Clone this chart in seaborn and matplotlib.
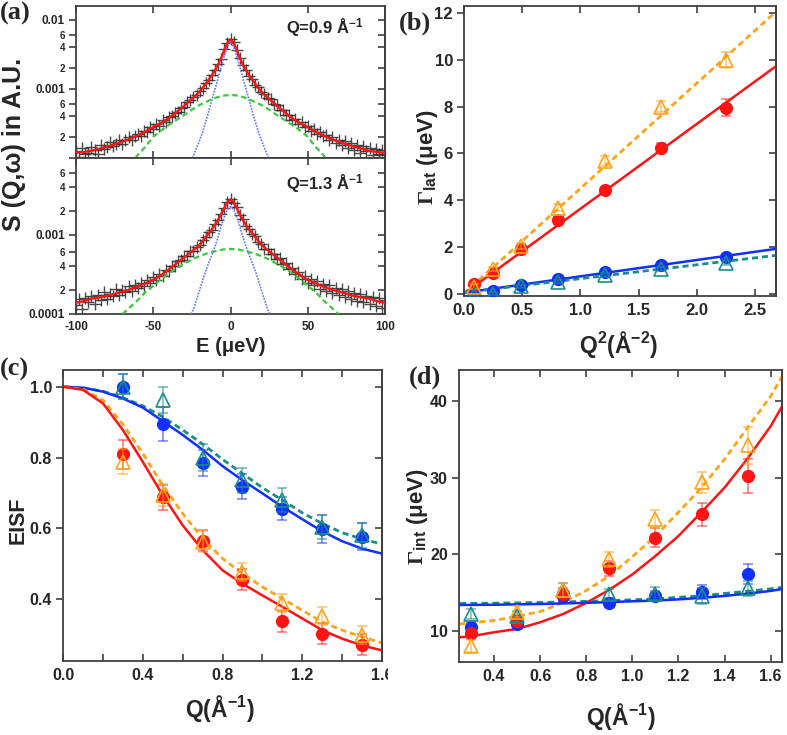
import numpy as np
import matplotlib
matplotlib.use('Agg')
import matplotlib.pyplot as plt
import matplotlib.colors as mcolors
from matplotlib.transforms import Bbox, TransformedBbox
import seaborn as sns

sns.set_style('ticks')
plt.rcParams['font.family'] = ['Liberation Sans', 'DejaVu Sans']
plt.rcParams['font.weight'] = 'bold'
plt.rcParams['axes.labelweight'] = 'bold'
plt.rcParams['axes.unicode_minus'] = False
plt.rcParams['mathtext.fontset'] = 'custom'
plt.rcParams['mathtext.rm'] = 'Liberation Serif'
plt.rcParams['mathtext.bf'] = 'Liberation Sans:bold'
plt.rcParams['mathtext.it'] = 'Liberation Sans:italic:bold'
plt.rcParams['mathtext.default'] = 'bf'

# ---------------- data: panel (a)  (intensities in units of 1e-4) ----------------
UNIT = 1e-4
data_E = list(range(-100, 101, 2))
data_q09 = [1.25, 1.05, 1.4, 1.15, 1.2, 1.45, 1.3, 1.15, 1.55, 1.35,
            1.45, 1.7, 1.5, 1.6, 1.85, 1.6, 1.8, 2.0, 1.85, 2.1,
            2.25, 2.05, 2.5, 2.35, 2.8, 2.65, 3.1, 2.95, 3.5, 3.35,
            3.9, 4.0, 4.45, 4.65, 5.3, 5.55, 6.45, 6.85, 7.7, 8.1,
            9.3, 10.2, 12.0, 13.4, 16.0, 18.6, 22.8, 27.6, 37.5, 46.5,
            53.0,
            47.5, 36.5, 28.4, 22.2, 19.1, 15.5, 13.8, 11.6, 10.5, 8.9,
            8.4, 7.3, 7.1, 6.1, 5.85, 5.0, 4.9, 4.25, 4.2, 3.6,
            3.7, 3.15, 3.3, 2.8, 2.95, 2.5, 2.65, 2.2, 2.35, 2.05,
            2.15, 1.8, 2.0, 1.65, 1.85, 1.55, 1.75, 1.4, 1.65, 1.3,
            1.55, 1.2, 1.5, 1.25, 1.4, 1.1, 1.35, 1.15, 1.3, 1.1]
data_q13 = [1.3, 1.55, 1.15, 1.6, 1.4, 1.7, 1.35, 1.75, 1.5, 1.9,
            1.55, 1.8, 1.7, 2.05, 1.75, 2.0, 1.9, 2.25, 1.95, 2.35,
            2.15, 2.5, 2.25, 2.7, 2.5, 2.9, 2.7, 3.2, 3.0, 3.65,
            3.5, 4.1, 4.0, 4.7, 4.75, 5.4, 5.45, 6.2, 6.3, 7.1,
            7.4, 8.6, 9.4, 10.8, 11.6, 13.7, 15.3, 18.6, 21.8, 26.4,
            28.8,
            25.7, 22.3, 18.0, 15.7, 13.1, 12.0, 10.3, 9.7, 8.2, 7.7,
            6.7, 6.6, 5.8, 5.8, 5.0, 5.05, 4.3, 4.4, 3.7, 3.85,
            3.25, 3.4, 2.8, 3.05, 2.5, 2.8, 2.3, 2.6, 2.1, 2.4,
            1.95, 2.3, 1.85, 2.15, 1.75, 2.05, 1.65, 1.95, 1.55, 1.85,
            1.45, 1.8, 1.4, 1.7, 1.35, 1.65, 1.25, 1.6, 1.2, 1.5]

fit_E = [-100, -95, -90, -85, -80, -75, -70, -65, -60, -55, -50, -45, -40, -35, -30, -25,
         -20, -15, -12, -10, -8, -6, -4, -2, 0, 2, 4, 6, 8, 10, 12, 15, 20, 25, 30, 35,
         40, 45, 50, 55, 60, 65, 70, 75, 80, 85, 90, 95, 100]
total_q09 = [1.19, 1.22, 1.27, 1.36, 1.46, 1.58, 1.72, 1.9, 2.12, 2.42, 2.8, 3.2, 3.76, 4.6,
             5.7, 7.2, 9.1, 12.7, 15.8, 18.8, 22.5, 28, 37, 47, 52.5, 47, 37, 28, 22.5, 18.8,
             15.8, 12.7, 9.1, 7.2, 5.7, 4.6, 3.76, 3.2, 2.8, 2.42, 2.12, 1.9, 1.72, 1.58, 1.46,
             1.36, 1.27, 1.22, 1.19]
total_q13 = [1.39, 1.45, 1.56, 1.62, 1.69, 1.8, 1.92, 2.05, 2.22, 2.45, 2.7, 3.1, 3.65, 4.35,
             5.2, 6.2, 7.5, 10.0, 11.8, 13.4, 15.5, 18.3, 22, 26, 28.3, 26, 22, 18.3, 15.5, 13.4,
             11.8, 10.0, 7.5, 6.2, 5.2, 4.35, 3.65, 3.1, 2.7, 2.45, 2.22, 2.05, 1.92, 1.8, 1.69,
             1.62, 1.56, 1.45, 1.39]

broad_E_q09 = [-61.5, -60, -55, -50, -45, -40, -35, -30, -25, -20, -15, -10, -5, 0,
               5, 10, 15, 20, 25, 30, 35, 40, 45, 50, 55, 60, 61.5]
broad_q09 = [1.0, 1.11, 1.46, 2.03, 2.5, 3.0, 3.55, 4.2, 5.0, 5.86, 6.6, 7.4, 8.0, 8.2,
             8.0, 7.4, 6.6, 5.86, 5.0, 4.2, 3.55, 3.0, 2.5, 2.03, 1.46, 1.11, 1.0]
broad_E_q13 = [-70, -65, -60, -55, -50, -45, -40, -35, -30, -25, -20, -15, -10, -5, 0,
               5, 10, 15, 20, 25, 30, 35, 40, 45, 50, 55, 60, 65, 70]
broad_q13 = [1.0, 1.22, 1.5, 1.9, 2.27, 2.75, 3.27, 3.8, 4.3, 4.9, 5.4, 5.85, 6.2, 6.55, 6.65,
             6.55, 6.2, 5.85, 5.4, 4.9, 4.3, 3.8, 3.27, 2.75, 2.27, 1.9, 1.5, 1.22, 1.0]

narrow_E_q09 = [-24.5, -22, -20, -18, -15, -12, -10, -8, -6, -4, -2, 0,
                2, 4, 6, 8, 10, 12, 15, 18, 20, 22, 24.5]
narrow_q09 = [1.0, 1.4, 1.8, 2.4, 4.0, 7.0, 10, 14.5, 21, 30, 41, 48,
              41, 30, 21, 14.5, 10, 7.0, 4.0, 2.4, 1.8, 1.4, 1.0]
narrow_E_q13 = [-25.5, -24, -22, -20, -18, -15, -12, -10, -8, -6, -4, -2, 0,
                2, 4, 6, 8, 10, 12, 15, 18, 20, 22, 24, 25.5]
narrow_q13 = [1.0, 1.15, 1.5, 2.0, 2.7, 4.0, 5.6, 7.2, 9.5, 13, 17, 21, 22.8,
              21, 17, 13, 9.5, 7.2, 5.6, 4.0, 2.7, 2.0, 1.5, 1.15, 1.0]

# ---------------- data: panel (b) ----------------
Q2 = [0.09, 0.25, 0.49, 0.81, 1.21, 1.69, 2.25]
lat_orange = [0.3, 1.06, 2.05, 3.68, 5.67, 8.0, 9.99]
lat_orange_err = [0.1, 0.1, 0.12, 0.15, 0.2, 0.25, 0.35]
lat_red = [0.42, 0.88, 1.91, 3.14, 4.42, 6.23, 7.96]
lat_red_err = [0.1, 0.1, 0.12, 0.12, 0.15, 0.2, 0.35]
lat_blue = [0.0, 0.1, 0.38, 0.61, 0.92, 1.23, 1.57]
lat_blue_err = [0.05, 0.05, 0.06, 0.06, 0.07, 0.08, 0.1]
lat_teal = [-0.05, 0.0, 0.32, 0.52, 0.8, 1.05, 1.32]
lat_teal_err = [0.05, 0.05, 0.06, 0.06, 0.07, 0.08, 0.1]
fitQ2 = [0.0, 2.7]
fit_lat_orange = [0.0, 12.15]
fit_lat_red = [0.0, 9.8]
fit_lat_blue = [0.04, 1.93]
fit_lat_teal = [0.05, 1.65]

# ---------------- data: panel (c) ----------------
Q = [0.3, 0.5, 0.7, 0.9, 1.1, 1.3, 1.5]
eisf_blue = [1.0, 0.894, 0.784, 0.718, 0.656, 0.598, 0.577]
eisf_blue_err = [0.036, 0.048, 0.037, 0.035, 0.033, 0.039, 0.038]
eisf_teal = [1.0, 0.962, 0.80, 0.736, 0.68, 0.604, 0.581]
eisf_teal_err = [0.035, 0.036, 0.038, 0.035, 0.035, 0.033, 0.035]
eisf_red = [0.809, 0.688, 0.565, 0.455, 0.338, 0.303, 0.272]
eisf_red_err = [0.04, 0.035, 0.03, 0.03, 0.03, 0.03, 0.03]
eisf_orange = [0.788, 0.694, 0.563, 0.477, 0.39, 0.353, 0.30]
eisf_orange_err = [0.035, 0.03, 0.03, 0.025, 0.025, 0.025, 0.025]
fitQ_c = [0.0, 0.1, 0.2, 0.3, 0.4, 0.5, 0.6, 0.7, 0.8, 0.9, 1.0, 1.1, 1.2, 1.3, 1.4, 1.5, 1.6]
fit_eisf_blue = [1.0, 0.997, 0.986, 0.967, 0.941, 0.903, 0.864, 0.822, 0.776, 0.736, 0.699,
                 0.661, 0.626, 0.592, 0.564, 0.543, 0.529]
fit_eisf_teal = [1.0, 0.997, 0.987, 0.969, 0.946, 0.915, 0.878, 0.838, 0.795, 0.755, 0.715,
                 0.68, 0.644, 0.614, 0.588, 0.57, 0.556]
fit_eisf_red = [1.0, 0.991, 0.953, 0.878, 0.788, 0.694, 0.609, 0.539, 0.482, 0.444, 0.411,
                0.379, 0.346, 0.313, 0.289, 0.27, 0.256]
fit_eisf_orange = [1.0, 0.993, 0.962, 0.894, 0.812, 0.722, 0.642, 0.572, 0.515, 0.473, 0.435,
                   0.402, 0.369, 0.336, 0.313, 0.294, 0.277]

# ---------------- data: panel (d) ----------------
int_red = [9.74, 11.4, 14.8, 18.2, 22.2, 25.2, 30.2]
int_red_err = [0.7, 0.7, 0.8, 1.0, 1.2, 1.5, 2.2]
int_orange = [8.1, 12.55, 15.4, 19.35, 24.6, 29.4, 34.2]
int_orange_err = [0.8, 0.7, 0.9, 1.0, 1.2, 1.35, 2.4]
int_blue = [10.6, 10.95, 14.6, 13.7, 14.6, 15.1, 17.45]
int_blue_err = [0.6, 0.6, 0.8, 0.6, 0.7, 0.9, 1.3]
int_teal = [12.25, 11.95, 15.4, 14.8, 14.9, 14.6, 15.6]
int_teal_err = [0.7, 0.7, 0.9, 0.7, 0.8, 1.0, 1.0]
fitQ_d = [0.25, 0.3, 0.4, 0.5, 0.6, 0.7, 0.8, 0.9, 1.0, 1.1, 1.2, 1.3, 1.4, 1.5, 1.6, 1.65]
fit_int_red = [9.22, 9.35, 9.87, 10.3, 11.17, 12.25, 13.7, 15.4, 17.4, 19.8, 22.4, 25.5,
               28.7, 32.5, 36.7, 39.3]
fit_int_orange = [10.95, 11.1, 11.4, 11.95, 12.55, 13.77, 15.3, 17.2, 19.7, 22.4, 25.5, 28.7,
                  32.4, 36.5, 40.6, 43.2]
fit_int_blue = [13.42, 13.43, 13.45, 13.5, 13.55, 13.62, 13.7, 13.8, 13.9, 14.0, 14.15, 14.35,
                14.6, 14.9, 15.25, 15.5]
fit_int_teal = [13.6, 13.61, 13.64, 13.68, 13.73, 13.8, 13.88, 13.97, 14.07, 14.2, 14.4, 14.6,
                14.9, 15.2, 15.5, 15.7]

# ---------------- styling ----------------
RED = '#ff1414'
BLUE = '#1030ff'
ORANGE = '#ffa31a'
TEAL = '#1a8c8c'
GREEN = '#3cc83c'
DOTBLUE = '#5a78ff'
DATA = '#2a2a2a'
SPINE = '#404040'
DASH = (0, (2.2, 1.4))

W, H = 787, 735
fig = plt.figure(figsize=(W / 100, H / 100), dpi=100)


def box(l, t, r, b):
    return [l / W, 1 - b / H, (r - l) / W, (b - t) / H]


axA1 = fig.add_axes(box(76, 6, 385, 158))
axA2 = fig.add_axes(box(76, 158, 385, 314))
axB = fig.add_axes(box(464, 6, 776, 296))
axC = fig.add_axes(box(63, 370, 382, 661))
axD = fig.add_axes(box(459, 370, 782, 662))


def line(ax, x, y, color, ls='-', lw=1.8, z=2):
    sns.lineplot(x=x, y=y, ax=ax, color=color, linestyle=ls, linewidth=lw,
                 legend=False, errorbar=None, zorder=z)


def pts(ax, x, y, e, color, filled=True):
    ec = mcolors.to_rgba(color, 0.6)
    if filled:
        ax.errorbar(x, y, yerr=e, fmt='o', ms=8.5, color=color, mfc=color, mec=color,
                    ecolor=ec, elinewidth=1.1, capsize=3.5, capthick=1.1, zorder=4)
    else:
        ax.errorbar(x, y, yerr=e, fmt='^', ms=10, color=color, mfc='none', mec=color,
                    mew=1.2, ecolor=ec, elinewidth=1.1, capsize=3.5, capthick=1.1, zorder=5)


def frame(ax, size, log=False):
    for s in ax.spines.values():
        s.set_color(SPINE)
        s.set_linewidth(1.3)
    ax.tick_params(axis='x', which='both', direction='in', top=True, bottom=True,
                   length=5, width=1.2, color=SPINE, labelsize=size, pad=5)
    ax.tick_params(axis='y', which='both', direction='out', left=True, right=False,
                   length=5, width=1.2, color=SPINE, labelsize=size, pad=3)
    for t in ax.get_xticklabels() + ax.get_yticklabels():
        t.set_fontweight('bold')
    sec = ax.secondary_yaxis('right', functions=(lambda v: v, lambda v: v))
    sec.set_yticks(ax.get_yticks(), labels=[''] * len(ax.get_yticks()))
    if log:
        mt = ax.get_yticks(minor=True)
        sec.set_yticks(mt, labels=[''] * len(mt), minor=True)
    sec.tick_params(axis='y', which='both', direction='in', length=5, width=1.2, color=SPINE)
    sec.spines['right'].set_color(SPINE)
    sec.spines['right'].set_linewidth(1.3)


# ---------------- panel (a) ----------------
minor_a = [2e-4, 4e-4, 6e-4, 2e-3, 4e-3, 6e-3]
minor_lab = ['2', '4', '6', '2', '4', '6']
specs = [
    (axA1, data_q09, total_q09, broad_E_q09, broad_q09, narrow_E_q09, narrow_q09, 0.0159,
     [1e-4, 1e-3, 1e-2], ['', '0.001', '0.01'], 'Q=0.9 Å$^{-1}$', 0.855),
    (axA2, data_q13, total_q13, broad_E_q13, broad_q13, narrow_E_q13, narrow_q13, 0.0094,
     [1e-4, 1e-3], ['0.0001', '0.001'], 'Q=1.3 Å$^{-1}$', 0.833),
]
for ax, dat, tot, bE, bv, nE, nv, top, yt, yl, txt, ty in specs:
    ax.set_yscale('log')
    ax.plot(data_E, [v * UNIT for v in dat], ls='none', marker='+', ms=8, mew=1.0,
            color=DATA, alpha=0.85, zorder=2)
    line(ax, bE, [v * UNIT for v in bv], GREEN, ls=(0, (2.5, 1.6)), lw=1.6, z=3)
    line(ax, nE, [v * UNIT for v in nv], DOTBLUE, ls=(0, (1, 0.8)), lw=1.2, z=3)
    line(ax, fit_E, [v * UNIT for v in tot], RED, lw=1.7, z=4)
    ax.set_xlim(-100, 100)
    ax.set_ylim(1e-4, top)
    ax.set_xticks([-100, -50, 0, 50, 100])
    ax.set_yticks(yt, labels=yl)
    ax.set_yticks(minor_a, labels=minor_lab, minor=True)
    ax.set_xlabel('')
    ax.set_ylabel('')
    frame(ax, 8.5, log=True)
    ax.tick_params(axis='y', which='minor', labelsize=7)
    ax.text(0.93, ty, txt, transform=ax.transAxes, ha='right', va='center',
            fontsize=12, fontweight='bold')
axA1.tick_params(labelbottom=False)

# ---------------- panel (b) ----------------
line(axB, fitQ2, fit_lat_orange, ORANGE, ls=DASH, lw=2)
line(axB, fitQ2, fit_lat_red, RED, lw=1.8)
line(axB, fitQ2, fit_lat_blue, BLUE, lw=1.8)
line(axB, fitQ2, fit_lat_teal, TEAL, ls=DASH, lw=2)
pts(axB, Q2, lat_teal, lat_teal_err, TEAL, filled=False)
pts(axB, Q2, lat_blue, lat_blue_err, BLUE)
pts(axB, Q2, lat_orange, lat_orange_err, ORANGE, filled=False)
pts(axB, Q2, lat_red, lat_red_err, RED)
axB.set_xlim(0, 2.68)
axB.set_ylim(-0.1, 12.3)
axB.set_xticks([0, 0.5, 1.0, 1.5, 2.0, 2.5])
axB.set_yticks([0, 2, 4, 6, 8, 10, 12])
axB.set_xlabel('')
axB.set_ylabel('')
frame(axB, 12)

# ---------------- panel (c) ----------------
line(axC, fitQ_c, fit_eisf_teal, TEAL, ls=DASH, lw=2)
line(axC, fitQ_c, fit_eisf_blue, BLUE, lw=1.8)
line(axC, fitQ_c, fit_eisf_orange, ORANGE, ls=DASH, lw=2)
line(axC, fitQ_c, fit_eisf_red, RED, lw=1.8)
pts(axC, Q, eisf_blue, eisf_blue_err, BLUE)
pts(axC, Q, eisf_teal, eisf_teal_err, TEAL, filled=False)
pts(axC, Q, eisf_red, eisf_red_err, RED)
pts(axC, Q, eisf_orange, eisf_orange_err, ORANGE, filled=False)
axC.set_xlim(0, 1.6)
axC.set_ylim(0.226, 1.047)
axC.set_xticks([0, 0.4, 0.8, 1.2, 1.6], labels=['0.0', '0.4', '0.8', '1.2', '1.6'])
axC.set_xticks([0.2, 0.6, 1.0, 1.4], minor=True)
axC.set_yticks([0.4, 0.6, 0.8, 1.0], labels=['0.4', '0.6', '0.8', '1.0'])
axC.set_xlabel('')
axC.set_ylabel('')
frame(axC, 11.5)

# ---------------- panel (d) ----------------
line(axD, fitQ_d, fit_int_orange, ORANGE, ls=DASH, lw=2)
line(axD, fitQ_d, fit_int_red, RED, lw=1.8)
line(axD, fitQ_d, fit_int_teal, TEAL, ls=DASH, lw=2.2)
line(axD, fitQ_d, fit_int_blue, BLUE, lw=1.8)
pts(axD, Q, int_blue, int_blue_err, BLUE)
pts(axD, Q, int_red, int_red_err, RED)
pts(axD, Q, int_teal, int_teal_err, TEAL, filled=False)
pts(axD, Q, int_orange, int_orange_err, ORANGE, filled=False)
axD.set_xlim(0.248, 1.649)
axD.set_ylim(6, 44)
axD.set_xticks([0.4, 0.6, 0.8, 1.0, 1.2, 1.4, 1.6],
               labels=['0.4', '0.6', '0.8', '1.0', '1.2', '1.4', '1.6'])
axD.set_yticks([10, 20, 30, 40])
axD.set_xlabel('')
axD.set_ylabel('')
frame(axD, 11.5)

# ---------------- labels ----------------
def ftext(x, y, s, size, rot=0, **kw):
    fig.text(x / W, 1 - y / H, s, fontsize=size, rotation=rot, ha='center', va='center',
             fontweight='bold', **kw)


ftext(14, 144, 'S (Q,ω) in A.U.', 18, rot=90)
ftext(231, 347, 'E (μeV)', 14.5)
ftext(619, 344, 'Q$^{2}$(Å$^{-2}$)', 16.5)
ftext(428, 157, r'$\mathrm{\Gamma}_{lat}$ (μeV)', 16, rot=90)
ftext(220, 709, 'Q(Å$^{-1}$)', 16.5)
ftext(18, 520, 'EISF', 15.5, rot=90)
ftext(621, 716, 'Q(Å$^{-1}$)', 16.5)
ftext(417, 517, r'$\mathrm{\Gamma}_{int}$ (μeV)', 16, rot=90)

for x, y, s in [(0, 2, '(a)'), (399, 12, '(b)'), (0, 358, '(c)'), (409, 366, '(d)')]:
    fig.text(x / W, 1 - y / H, s, fontsize=19, fontweight='bold', ha='left', va='top',
             family=['Liberation Serif', 'DejaVu Serif'])

fig.canvas.draw()
clipbb = TransformedBbox(Bbox.from_extents(0, 0, 388 / W, 1), fig.transFigure)
for t in axC.get_xticklabels():
    t.set_clip_box(clipbb)
    t.set_clip_on(True)

fig.savefig('out.png', dpi=100)
